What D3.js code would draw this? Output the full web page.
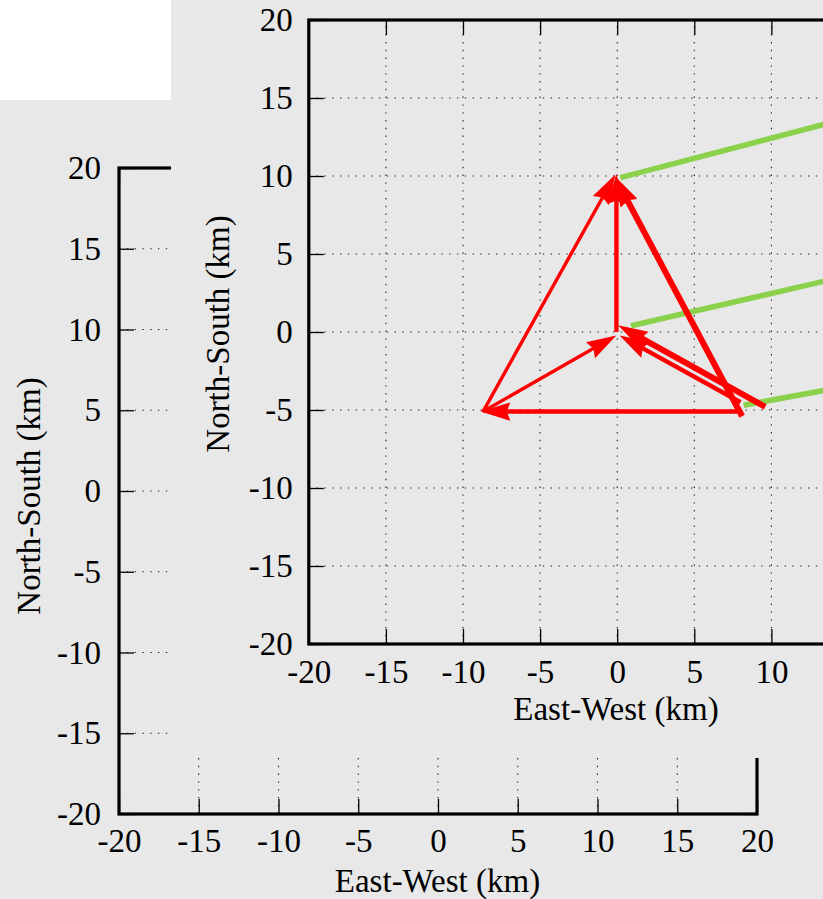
<!DOCTYPE html>
<html><head><meta charset="utf-8">
<script src="https://cdn.jsdelivr.net/npm/d3@7"></script>
<style>body{margin:0;background:#e8e8e8}svg{display:block}</style>
</head><body>
<svg id="c" width="823" height="899"></svg>
<script>
// ---------- data ----------
const tickValues = [-20, -15, -10, -5, 0, 5, 10, 15, 20];
const gridValues = [-15, -10, -5, 0, 5, 10, 15];
const xTitle = "East-West (km)";
const yTitle = "North-South (km)";

// red displacement arrows (km): start -> end (head at end)
const arrowX0 = [-8.7, -8.7, 8.1, 8.1, 7.4, 9.6, 8.0, -0.05];
const arrowY0 = [-5.1, -5.1, -5.1, -5.4, -4.3, -4.8, -4.5, 0.0];
const arrowX1 = [-0.2, -0.2, -8.7, -0.1, -0.05, 0.2, 0.3, -0.05];
const arrowY1 = [9.95, -0.3, -5.1, 9.85, 9.8, 0.35, -0.3, 9.95];
const arrowKind = ["thin", "thin", "medium", "thick", "thin", "thick", "medium", "medium"];

// green lines (km)
const greenX0 = [0.2, 0.9, 8.2];
const greenY0 = [9.9, 0.4, -4.7];
const greenX1 = [13.5, 13.5, 13.5];
const greenY1 = [13.33, 3.27, -3.73];

// ---------- drawing ----------
const W = 823, H = 899;
const FONT = "'Liberation Serif','Times New Roman',serif";
const BG = "#e8e8e8";
const svg = d3.select("#c");
svg.append("rect").attr("width", W).attr("height", H).attr("fill", BG);

function drawChart(g, x, y, o) {
  const [x0, x1] = x.range(), [y0, y1] = y.range(); // y0 bottom, y1 top
  const fmt = d => (x(d) > W ? "" : String(d));
  // grid
  const grid = g.append("g").attr("stroke", "#222").attr("stroke-width", 1.1)
    .attr("stroke-dasharray", "1.4,6.4");
  grid.selectAll(".gx").data(gridValues).join("line")
    .attr("x1", d => x(d)).attr("x2", d => x(d)).attr("y1", y0).attr("y2", y1);
  grid.selectAll(".gy").data(gridValues).join("line")
    .attr("y1", d => y(d)).attr("y2", d => y(d)).attr("x1", x0).attr("x2", x1);
  // axes with inward ticks (mirrored)
  const styleAxis = sel => {
    sel.select(".domain").remove();
    sel.selectAll(".tick line").attr("stroke", "#000").attr("stroke-width", 1.3);
    sel.selectAll(".tick text").attr("font-family", FONT).attr("font-size", 33).attr("fill", "#000");
  };
  g.append("g").attr("transform", `translate(${x0},0)`)
    .call(d3.axisLeft(y).tickValues(tickValues).tickFormat(d => String(d))
      .tickSizeInner(-15).tickSizeOuter(0).tickPadding(o.yPad)).call(styleAxis);
  g.append("g").attr("transform", `translate(0,${y0})`)
    .call(d3.axisBottom(x).tickValues(tickValues).tickFormat(fmt)
      .tickSizeInner(-15).tickSizeOuter(0).tickPadding(o.xPad)).call(styleAxis);
  g.append("g").attr("transform", `translate(${x1},0)`)
    .call(d3.axisRight(y).tickValues(tickValues).tickSizeInner(-15).tickSizeOuter(0).tickFormat(""))
    .call(styleAxis);
  g.append("g").attr("transform", `translate(0,${y1})`)
    .call(d3.axisTop(x).tickValues(tickValues).tickSizeInner(-15).tickSizeOuter(0).tickFormat(""))
    .call(styleAxis);
  // frame
  g.append("rect").attr("x", x0).attr("y", y1).attr("width", x1 - x0).attr("height", y0 - y1)
    .attr("fill", "none").attr("stroke", "#000").attr("stroke-width", 3.2);
  // titles
  g.append("text").attr("x", o.xTitleX).attr("y", o.xTitleY).attr("text-anchor", "middle")
    .attr("font-family", FONT).attr("font-size", 33).text(xTitle);
  g.append("text").attr("transform", `translate(${o.yTitleX},${o.yTitleY}) rotate(-90)`)
    .attr("text-anchor", "middle").attr("font-family", FONT).attr("font-size", 33).text(yTitle);
}

// back (lower-left) chart
const bx = d3.scaleLinear().domain([-20, 20]).range([119, 757]);
const by = d3.scaleLinear().domain([-20, 20]).range([814, 168]);
drawChart(svg.append("g"), bx, by, {yPad: 18, xPad: 15, xTitleX: 437.5, xTitleY: 892, yTitleX: 40, yTitleY: 496});

// white patch top-left
svg.append("rect").attr("x", 0).attr("y", 0).attr("width", 171).attr("height", 100).attr("fill", "#fff");

// front image background
svg.append("rect").attr("x", 171).attr("y", 0).attr("width", W - 171).attr("height", 758).attr("fill", BG);

// front chart
const fx = d3.scaleLinear().domain([-20, 20]).range([308.8, 925.6]);
const fy = d3.scaleLinear().domain([-20, 20]).range([644, 20]);
const front = svg.append("g");
drawChart(front, fx, fy, {yPad: 16, xPad: 16, xTitleX: 616, xTitleY: 720, yTitleX: 229, yTitleY: 334});

// green lines
front.append("g").selectAll("line").data(greenX0.map((d, i) => i)).join("line")
  .attr("x1", i => fx(greenX0[i])).attr("y1", i => fy(greenY0[i]))
  .attr("x2", i => fx(greenX1[i])).attr("y2", i => fy(greenY1[i]))
  .attr("stroke", "#8bd14c").attr("stroke-width", 5.5);

// red arrows
const widthOf = {thin: 3.4, medium: 4.4, thick: 6};
const arrows = arrowX0.map((d, i) => {
  const x0 = fx(arrowX0[i]), y0 = fy(arrowY0[i]), x1 = fx(arrowX1[i]), y1 = fy(arrowY1[i]);
  const len = Math.hypot(x1 - x0, y1 - y0), ux = (x1 - x0) / len, uy = (y1 - y0) / len;
  const L = 26, hw = 8;
  const hx = x1 - ux * L, hy = y1 - uy * L;
  return {x0, y0, lx: hx + ux * 4, ly: hy + uy * 4, w: widthOf[arrowKind[i]],
    head: [[x1, y1], [hx - uy * hw, hy + ux * hw], [hx + ux * 3, hy + uy * 3], [hx + uy * hw, hy - ux * hw]]};
});
const ag = front.append("g");
ag.selectAll("line").data(arrows).join("line")
  .attr("x1", d => d.x0).attr("y1", d => d.y0).attr("x2", d => d.lx).attr("y2", d => d.ly)
  .attr("stroke", "#ff0000").attr("stroke-width", d => d.w);
ag.selectAll("path").data(arrows).join("path")
  .attr("d", d => "M" + d.head.join("L") + "Z")
  .attr("fill", "#ff0000").attr("stroke", "#ff0000").attr("stroke-width", 1.5).attr("stroke-linejoin", "miter");
</script>
</body></html>
